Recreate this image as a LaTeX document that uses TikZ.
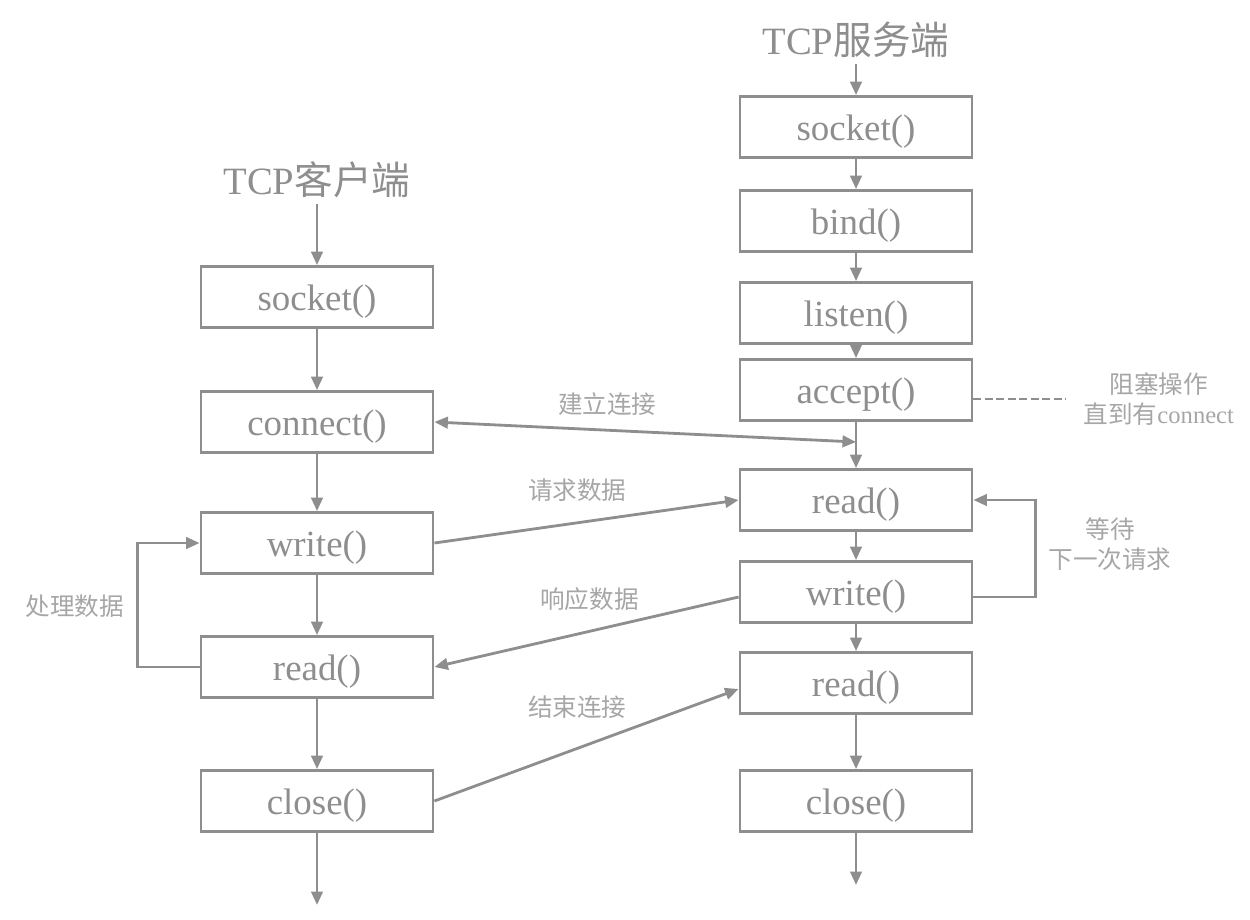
\documentclass[tikz,border=0pt]{standalone}
\usepackage{fontspec}
\setmainfont{Liberation Serif}
\newfontfamily\cjk{Noto Sans CJK SC}
\usepackage{tikz}
\usetikzlibrary{positioning,calc,arrows.meta}
\definecolor{linegray}{HTML}{8E8E8E}
\definecolor{notegray}{HTML}{A6A6A6}

\begin{document}
\begin{tikzpicture}[node distance=2.5cm, >={Triangle[length=0.27cm,width=0.23cm]},
    box/.style={draw=linegray, line width=1.6pt, minimum width=4.64cm, minimum height=1.22cm, inner sep=0pt, text height=0.7cm, text depth=0.15cm, text=linegray, font=\fontsize{21}{24}\selectfont},
    title/.style={text=linegray, font=\fontsize{22}{26}\selectfont},
    note/.style={text=notegray, align=center, font=\cjk\fontsize{14}{17}\selectfont},
    flow/.style={draw=linegray, line width=1.6pt, ->}]
    \useasboundingbox (0,0) rectangle (25,-18.38);

    % Client column
    \node [title] (ctitle) at (6.34,-3.6) {TCP{\cjk 客户端}};
    \node [box] (csocket) at (6.34,-5.94) {socket()};
    \node [box, below of=csocket] (cconnect) {connect()};
    \node [box, below of=cconnect, node distance=2.42cm] (cwrite) {write()};
    \node [box, below of=cwrite, node distance=2.48cm] (cread) {read()};
    \node [box, below of=cread, node distance=2.68cm] (cclose) {close()};
    \coordinate [below of=cclose, node distance=2.08cm] (cend);

    % Server column
    \node [title] (stitle) at (17.12,-0.8) {TCP{\cjk 服务端}};
    \node [box] (ssocket) at (17.12,-2.54) {socket()};
    \node [box, below of=ssocket, node distance=1.88cm] (sbind) {bind()};
    \node [box, below of=sbind, node distance=1.84cm] (slisten) {listen()};
    \node [box, below of=slisten, node distance=1.54cm] (saccept) {accept()};
    \node [box, below of=saccept, node distance=2.2cm] (sread) {read()};
    \node [box, below of=sread, node distance=1.84cm] (swrite) {write()};
    \node [box, below of=swrite, node distance=1.82cm] (sreadb) {read()};
    \node [box, below of=sreadb, node distance=2.36cm] (sclose) {close()};
    \coordinate [below of=sclose, node distance=1.68cm] (send);
    \coordinate [below of=saccept, node distance=1.04cm] (sjoin);

    % Client flow
    \draw [flow] (ctitle) -- (csocket);
    \draw [flow] (csocket) -- (cconnect);
    \draw [flow] (cconnect) -- (cwrite);
    \draw [flow] (cwrite) -- (cread);
    \draw [flow] (cread) -- (cclose);
    \draw [flow] (cclose) -- (cend);
    \draw [flow] (cread.west) -- ++(-1.24,0) |- (cwrite.west);
    \node [note] (cnote) at (1.5,-12.12) {处理数据};

    % Server flow
    \draw [flow] (stitle) -- (ssocket);
    \draw [flow] (ssocket) -- (sbind);
    \draw [flow] (sbind) -- (slisten);
    \draw [flow] (slisten) -- (saccept);
    \draw [flow] (saccept) -- (sread);
    \draw [flow] (sread) -- (swrite);
    \draw [flow] (swrite) -- (sreadb);
    \draw [flow] (sreadb) -- (sclose);
    \draw [flow] (sclose) -- (send);
    \draw [flow] ([yshift=-0.1cm]swrite.east) -- ++(1.24,0) |- (sread.east);
    \node [note] (snote) at (22.2,-10.88) {等待\\下一次请求};
    \draw [draw=linegray, line width=1.6pt, dash pattern=on 0.16cm off 0.07cm] ([yshift=-0.18cm]saccept.east) -- ++(1.86,0) node [note, right=0.2cm] (anote) {阻塞操作\\直到有{\rmfamily connect}};

    % Between client and server
    \draw [flow, <->] (cconnect.east) -- node [note, pos=0.41, above=0.14cm] {建立连接} (sjoin);
    \draw [flow] (cwrite.east) -- node [note, pos=0.47, above=0.28cm] {请求数据} (sread.west);
    \draw [flow] ([yshift=-0.1cm]swrite.west) -- node [note, pos=0.49, above=0.26cm] {响应数据} (cread.east);
    \draw [flow] (cclose.east) -- node [note, pos=0.47, above=0.45cm] {结束连接} ([yshift=-0.12cm]sreadb.west);
\end{tikzpicture}
\end{document}
